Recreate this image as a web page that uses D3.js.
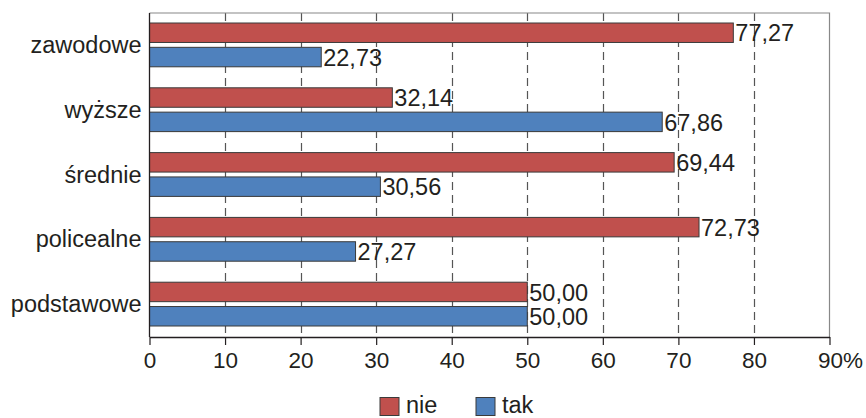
<!DOCTYPE html>
<html>
<head>
<meta charset="utf-8" />
<title></title>
<style>
html, body {
    padding: 0px;
    margin: 0px;
    background: #fff;
}
text {
    font-family: "Liberation Sans", Arial, sans-serif;
    fill: #231f20;
}
</style>
</head>
<body>
<svg id="chart" width="866" height="418"></svg>
<script src="https://d3js.org/d3.v7.min.js"></script>
<script>
!(function(){
    "use strict"

    var categories = ["zawodowe", "wyższe", "średnie", "policealne", "podstawowe"]
    var nie = [77.27, 32.14, 69.44, 72.73, 50.00]
    var tak = [22.73, 67.86, 30.56, 27.27, 50.00]
    var ticks = [0, 10, 20, 30, 40, 50, 60, 70, 80, 90]
    var seriesNames = ["nie", "tak"]
    var colors = ["#c0504d", "#4f81bd"]

    var left = 149.5, right = 829.5, top = 13, bottom = 337
    var fs = 23.5

    var svg = d3.select("#chart")

    var x = d3.scaleLinear().domain([0, 90]).range([left, right])
    var y = d3.scaleBand().domain(categories).range([top, bottom])
    var sub = d3.scaleBand().domain(seriesNames).range([10, y.bandwidth() - 11]).paddingInner(0.2)

    // gridlines
    svg.append("g").selectAll("line")
        .data(ticks.slice(1, -1))
        .enter().append("line")
        .attr("x1", d => Math.round(x(d)) + 0.5).attr("x2", d => Math.round(x(d)) + 0.5)
        .attr("y1", top).attr("y2", bottom)
        .attr("stroke", "#555")
        .attr("stroke-width", 1.2)
        .attr("stroke-dasharray", "8 5")

    // frame
    svg.append("path")
        .attr("d", "M" + left + "," + top + "H" + right + "V" + bottom)
        .attr("fill", "none").attr("stroke", "#888").attr("stroke-width", 1.2)

    var rows = svg.append("g").selectAll("g")
        .data(categories)
        .enter().append("g")
        .attr("transform", d => "translate(0," + y(d) + ")")

    seriesNames.forEach(function(s, si){
        var vals = si === 0 ? nie : tak
        rows.append("rect")
            .attr("x", left)
            .attr("y", sub(s))
            .attr("width", (d, i) => x(vals[i]) - left)
            .attr("height", sub.bandwidth())
            .attr("fill", colors[si])
            .attr("stroke", "#3a3a3a")
            .attr("stroke-width", 1)
        rows.append("text")
            .attr("x", (d, i) => x(vals[i]) + 2)
            .attr("y", sub(s) + sub.bandwidth() / 2)
            .attr("dy", "0.37em")
            .attr("font-size", fs)
            .text((d, i) => vals[i].toFixed(2).replace(".", ","))
    })

    // category labels
    rows.append("text")
        .attr("x", left - 8)
        .attr("y", y.bandwidth() / 2)
        .attr("dy", "0.32em")
        .attr("text-anchor", "end")
        .attr("font-size", fs)
        .text(d => d)

    // axes lines
    svg.append("line")
        .attr("x1", left).attr("x2", left).attr("y1", top).attr("y2", bottom)
        .attr("stroke", "#231f20").attr("stroke-width", 1.3)

    var xAxis = svg.append("g")
        .attr("transform", "translate(0," + bottom + ")")
        .call(d3.axisBottom(x).tickValues(ticks).tickSize(8).tickSizeOuter(0)
            .tickFormat(d => d === 90 ? "90%" : d))
    xAxis.select(".domain").attr("stroke", "#231f20").attr("stroke-width", 1.3)
    xAxis.selectAll(".tick line").attr("stroke", "#231f20").attr("stroke-width", 1.2)
    xAxis.selectAll(".tick text")
        .attr("font-size", 22.5)
        .attr("font-family", "Liberation Sans, Arial, sans-serif")
        .attr("fill", "#231f20")
        .attr("y", 31)
        .attr("dy", 0)
    xAxis.selectAll(".tick").filter(d => d === 90).select("text")
        .attr("text-anchor", "start").attr("x", -12)

    // legend
    var legend = svg.append("g")
    var lx = [380, 476]
    seriesNames.forEach(function(s, i){
        legend.append("rect")
            .attr("x", lx[i]).attr("y", 397.5)
            .attr("width", 19).attr("height", 18)
            .attr("fill", colors[i]).attr("stroke", "#3a3a3a").attr("stroke-width", 1)
        legend.append("text")
            .attr("x", lx[i] + 26).attr("y", 413)
            .attr("font-size", fs)
            .text(s)
    })

}());
</script>
</body>
</html>
